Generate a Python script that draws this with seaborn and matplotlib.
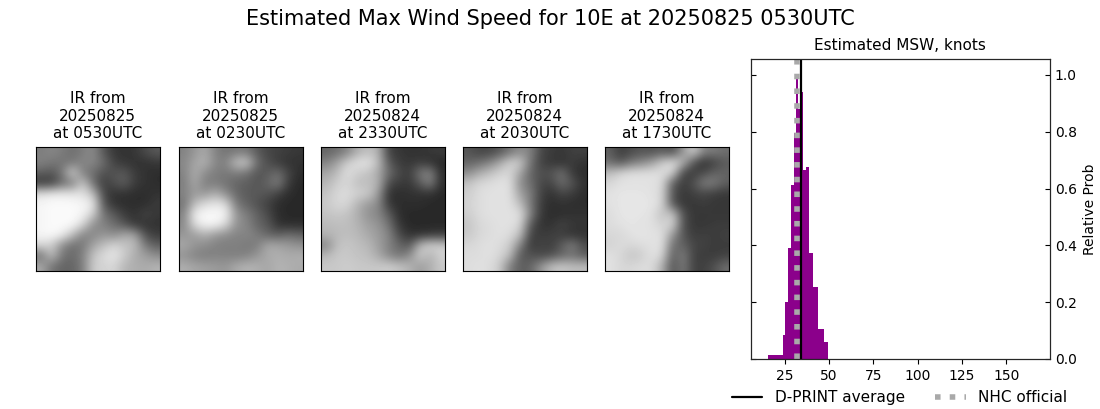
import numpy as np
import matplotlib
matplotlib.use('Agg')
import matplotlib.pyplot as plt
import seaborn as sns

sns.set_style("white")
plt.rcParams['font.family'] = ['DejaVu Sans']
plt.rcParams['text.color'] = 'black'
plt.rcParams['axes.labelcolor'] = 'black'
plt.rcParams['axes.titlecolor'] = 'black'
plt.rcParams['xtick.color'] = 'black'
plt.rcParams['ytick.color'] = 'black'

# histogram of the wind speed estimate (bin edges in knots, relative probability)
bin_edges = [15.4, 23.9, 25.2, 26.7, 28.4, 30.1, 31.2, 32.7, 34.0, 35.2, 36.9, 38.6, 41.2, 43.6, 47.0, 49.3]
rel_prob = [0.015, 0.085, 0.20, 0.39, 0.613, 0.795, 1.0, 0.88, 0.94, 0.667, 0.675, 0.373, 0.252, 0.107, 0.059]
dprint_avg = 34
nhc_official = 32

titles = ["IR from\n20250825\nat 0530UTC", "IR from\n20250825\nat 0230UTC", "IR from\n20250824\nat 2330UTC",
          "IR from\n20250824\nat 2030UTC", "IR from\n20250824\nat 1730UTC"]

# rough brightness of each IR frame on a coarse grid
ir_0530 = [
    [125, 135, 125, 110, 125, 140, 85, 55, 50, 55, 75, 90],
    [130, 120, 115, 120, 135, 135, 110, 65, 55, 50, 50, 55],
    [95, 85, 120, 215, 125, 110, 80, 85, 90, 60, 50, 45],
    [55, 60, 105, 120, 205, 110, 60, 80, 95, 60, 50, 45],
    [225, 235, 235, 230, 225, 190, 70, 50, 50, 45, 45, 50],
    [245, 250, 250, 250, 245, 235, 85, 50, 45, 45, 45, 60],
    [245, 250, 250, 250, 245, 205, 115, 90, 60, 50, 70, 55],
    [245, 250, 250, 250, 215, 140, 130, 110, 85, 55, 50, 50],
    [245, 250, 240, 190, 130, 135, 150, 140, 170, 165, 80, 60],
    [215, 205, 140, 110, 120, 165, 190, 215, 195, 190, 120, 95],
    [110, 195, 120, 105, 130, 195, 220, 230, 205, 170, 160, 140],
    [170, 115, 100, 100, 125, 205, 210, 215, 180, 175, 170, 180],
]
ir_0230 = [
    [130, 150, 170, 130, 115, 120, 120, 90, 70, 65, 60, 55],
    [135, 165, 180, 135, 130, 195, 205, 110, 80, 60, 50, 50],
    [130, 175, 140, 125, 120, 125, 115, 85, 90, 110, 70, 45],
    [125, 170, 125, 125, 115, 100, 95, 85, 100, 130, 60, 40],
    [130, 155, 150, 175, 140, 105, 90, 90, 85, 65, 45, 40],
    [115, 190, 220, 230, 220, 120, 100, 80, 65, 45, 40, 40],
    [130, 240, 250, 250, 245, 150, 125, 100, 75, 45, 40, 40],
    [135, 220, 245, 245, 215, 145, 135, 100, 90, 50, 45, 45],
    [150, 155, 175, 150, 140, 130, 135, 125, 100, 95, 110, 100],
    [170, 150, 140, 130, 125, 130, 120, 125, 170, 165, 155, 145],
    [145, 130, 125, 130, 130, 125, 130, 150, 170, 175, 170, 175],
    [175, 165, 160, 155, 150, 170, 180, 175, 165, 180, 175, 170],
]
ir_2330 = [
    [100, 110, 130, 175, 190, 180, 65, 55, 50, 50, 55, 60],
    [130, 160, 205, 225, 230, 190, 90, 60, 55, 60, 50, 40],
    [165, 185, 225, 205, 195, 170, 110, 75, 60, 120, 135, 45],
    [180, 205, 215, 190, 190, 180, 75, 60, 55, 90, 130, 45],
    [195, 215, 220, 210, 205, 155, 50, 45, 50, 50, 50, 40],
    [200, 215, 215, 180, 155, 140, 55, 45, 45, 45, 40, 40],
    [195, 200, 195, 175, 145, 135, 95, 45, 40, 40, 40, 40],
    [185, 190, 190, 180, 160, 150, 115, 55, 40, 40, 40, 40],
    [180, 185, 190, 185, 170, 155, 135, 75, 50, 50, 55, 60],
    [130, 190, 200, 190, 185, 160, 130, 105, 85, 185, 215, 205],
    [185, 200, 200, 195, 190, 170, 135, 115, 140, 205, 175, 210],
    [200, 200, 205, 200, 200, 200, 205, 195, 180, 155, 175, 200],
]
ir_2030 = [
    [85, 70, 70, 85, 115, 140, 130, 70, 60, 55, 65, 65],
    [100, 110, 130, 165, 210, 205, 115, 65, 55, 50, 60, 50],
    [140, 170, 190, 210, 215, 165, 100, 80, 85, 115, 55, 45],
    [195, 215, 220, 225, 225, 140, 110, 70, 70, 110, 85, 50],
    [205, 220, 225, 225, 225, 160, 125, 65, 50, 70, 60, 45],
    [210, 220, 225, 225, 225, 190, 120, 60, 45, 50, 45, 45],
    [205, 220, 225, 225, 225, 225, 130, 55, 45, 45, 50, 50],
    [195, 215, 220, 225, 225, 215, 85, 50, 50, 70, 55, 55],
    [200, 215, 220, 225, 220, 190, 65, 60, 65, 60, 50, 50],
    [215, 220, 225, 220, 205, 130, 55, 70, 60, 95, 130, 80],
    [220, 220, 225, 215, 190, 85, 85, 70, 80, 100, 110, 90],
    [220, 225, 220, 205, 125, 95, 100, 150, 190, 200, 190, 190],
]
ir_1730 = [
    [95, 60, 75, 85, 80, 90, 75, 150, 210, 130, 125, 110],
    [110, 85, 120, 135, 160, 205, 225, 185, 80, 45, 65, 90],
    [190, 215, 225, 225, 225, 220, 215, 65, 60, 75, 100, 100],
    [215, 225, 225, 225, 225, 220, 90, 60, 80, 130, 125, 95],
    [225, 230, 230, 230, 225, 215, 85, 55, 65, 70, 60, 55],
    [225, 230, 230, 230, 230, 215, 80, 55, 55, 60, 55, 55],
    [220, 230, 230, 230, 225, 190, 205, 80, 55, 55, 55, 55],
    [220, 225, 230, 225, 225, 210, 215, 80, 55, 55, 60, 60],
    [215, 215, 225, 230, 225, 225, 150, 85, 60, 65, 60, 65],
    [210, 220, 215, 220, 225, 225, 110, 100, 70, 65, 60, 60],
    [225, 215, 195, 205, 225, 215, 90, 130, 65, 60, 60, 65],
    [225, 215, 215, 220, 220, 175, 80, 125, 65, 65, 80, 110],
]
frames = [ir_0530, ir_0230, ir_2330, ir_2030, ir_1730]
panel_left = [35.6, 178.6, 320.6, 462.6, 604.6]

fig = plt.figure(figsize=(11, 4.09), dpi=100)
W, H = 1100, 409

for frame, title, left in zip(frames, titles, panel_left):
    ax = fig.add_axes([left / W, 1 - 271 / H, 124.4 / W, 124 / H])
    ax.imshow(np.array(frame), cmap='gray', vmin=0, vmax=255, interpolation='bicubic', aspect='auto')
    ax.set_xticks([])
    ax.set_yticks([])
    ax.set_title(title, fontsize=11, pad=6.4)
    for sp in ax.spines.values():
        sp.set_visible(True)
        sp.set_color('black')
        sp.set_linewidth(0.8)

ax = fig.add_axes([750.5 / W, 1 - 359 / H, 299.5 / W, 300 / H])
centers = [(a + b) / 2 for a, b in zip(bin_edges[:-1], bin_edges[1:])]
sns.histplot(x=centers, weights=rel_prob, bins=bin_edges, color='darkmagenta', alpha=1, linewidth=0, ax=ax)
line1 = ax.axvline(dprint_avg, color='black', lw=1.6, label='D-PRINT average')
line2 = ax.axvline(nhc_official, color='darkgray', lw=4, ls=':', label='NHC official')
ax.set_xlim(5.8, 174.7)
ax.set_ylim(0, 1.056)
ax.set_xticks([25, 50, 75, 100, 125, 150])
ax.set_ylabel('')
ax.set_title('Estimated MSW, knots', fontsize=11, pad=6.4)
ax.tick_params(axis='x', bottom=True, length=3.5, width=0.8, labelsize=10)
ax.set_yticks([0, 0.2, 0.4, 0.6, 0.8, 1.0])
ax.tick_params(axis='y', left=True, direction='in', length=3.5, width=0.8, labelleft=False)
for sp in ax.spines.values():
    sp.set_visible(True)
    sp.set_color('black')
    sp.set_linewidth(0.8)

# labels sit on the right, y ticks point inward on both sides
ax2 = ax.twinx()
ax2.set_ylim(0, 1.056)
ax2.set_yticks([0, 0.2, 0.4, 0.6, 0.8, 1.0])
ax2.tick_params(axis='y', right=True, direction='in', length=3.5, width=0.8, labelsize=10, pad=3.5)
ax2.grid(False)
ax2.set_ylabel('Relative Prob', fontsize=10, labelpad=4.6)

fig.legend(handles=[line1, line2], ncol=2, frameon=False, fontsize=11,
           loc='lower left', bbox_to_anchor=(718 / W, -0.024), columnspacing=2.0)
fig.suptitle('Estimated Max Wind Speed for 10E at 20250825 0530UTC', fontsize=15, x=550 / W, y=1 - 9 / H, va='top')

plt.savefig('out.png', dpi=100)
plt.close()
